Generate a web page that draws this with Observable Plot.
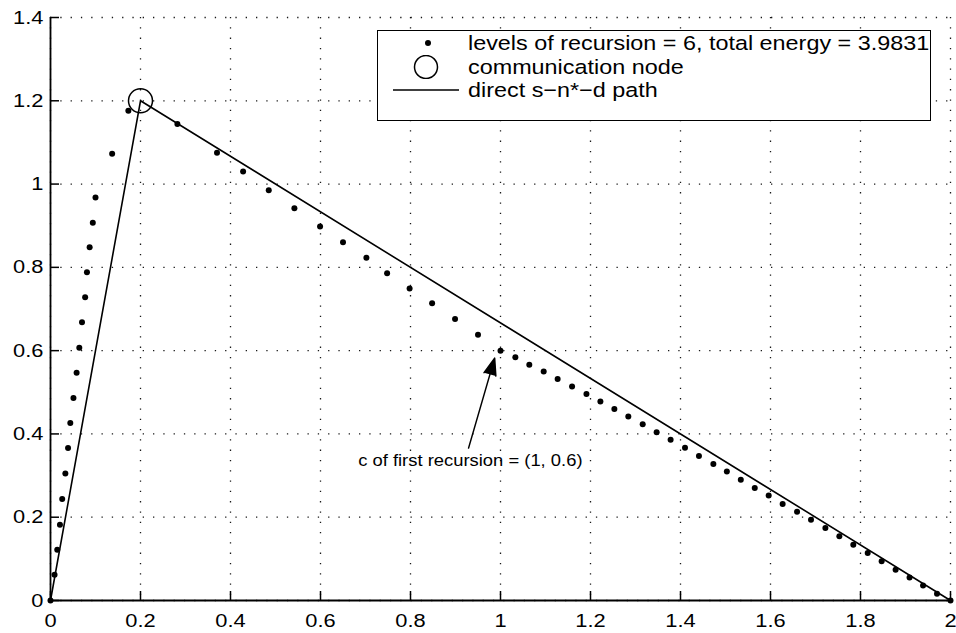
<!DOCTYPE html>
<html>
<head>
<meta charset="utf-8">
<script src="https://cdn.jsdelivr.net/npm/d3@7"></script>
<script src="https://cdn.jsdelivr.net/npm/@observablehq/plot@0.6"></script>
<style>
  html, body { margin: 0; padding: 0; background: #fff; }
  #chart { position: relative; width: 956px; height: 633px; font-family: "Liberation Sans", Arial, Helvetica, sans-serif; color: #000; }
  #chart svg { display: block; }
  .legend { position: absolute; left: 377px; top: 30px; width: 554px; height: 91px; box-sizing: border-box;
            border: 1.6px solid #000; background: #fff; }
  .legend .row { position: absolute; left: 0; height: 24px; display: flex; align-items: center; }
  .legend .row svg { width: 90px; height: 24px; flex: none; }
  .legend .row span { font-size: 20.5px; white-space: nowrap; display: inline-block;
                      transform: scaleX(1.14); transform-origin: left center; }
</style>
</head>
<body>
<div id="chart"></div>
<script>
// Axis ticks
const xTicks = [0, 0.2, 0.4, 0.6, 0.8, 1, 1.2, 1.4, 1.6, 1.8, 2];
const yTicks = [0, 0.2, 0.4, 0.6, 0.8, 1, 1.2, 1.4];

// Relay positions after 6 levels of recursion (source at (0,0), destination at (2,0))
const recursionX = [0, 0.009, 0.015, 0.021, 0.026, 0.033, 0.039, 0.044, 0.051, 0.058, 0.064, 0.070, 0.077,
  0.081, 0.087, 0.094, 0.100, 0.137, 0.173, 0.282, 0.370, 0.428, 0.485, 0.542, 0.599, 0.650, 0.702, 0.748,
  0.798, 0.848, 0.899, 0.950, 1.0, 1.033, 1.064, 1.096, 1.127, 1.159, 1.191, 1.222, 1.253, 1.284, 1.316,
  1.347, 1.378, 1.410, 1.441, 1.473, 1.503, 1.534, 1.565, 1.596, 1.627, 1.659, 1.690, 1.722, 1.753, 1.784,
  1.816, 1.847, 1.878, 1.909, 1.939, 1.970, 2.0];
const recursionY = [0, 0.062, 0.122, 0.182, 0.244, 0.305, 0.366, 0.426, 0.486, 0.547, 0.607, 0.668, 0.728,
  0.788, 0.848, 0.907, 0.968, 1.073, 1.176, 1.144, 1.075, 1.030, 0.985, 0.942, 0.898, 0.860, 0.823, 0.786,
  0.749, 0.714, 0.676, 0.638, 0.6, 0.584, 0.566, 0.550, 0.532, 0.514, 0.496, 0.478, 0.460, 0.442, 0.423,
  0.404, 0.386, 0.367, 0.347, 0.328, 0.310, 0.290, 0.270, 0.252, 0.232, 0.213, 0.194, 0.174, 0.154, 0.134,
  0.114, 0.094, 0.074, 0.055, 0.036, 0.016, 0];

// Communication node n* and the direct s - n* - d path
const nodeX = [0.2];
const nodeY = [1.2];
const pathX = [0, 0.2, 2];
const pathY = [0, 1.2, 0];

// Legend entries
const legendLabels = ["levels of recursion = 6, total energy = 3.9831", "communication node", "direct s\u2212n*\u2212d path"];

// Annotation of the first recursion's centre point
const noteText = "c of first recursion = (1, 0.6)";
const noteX = [0.933];
const noteY = [0.336];
const arrowX = [0.929, 0.987];
const arrowY = [0.366, 0.582];

const recursion = recursionX.map((x, i) => ({x, y: recursionY[i]}));
const path = pathX.map((x, i) => ({x, y: pathY[i]}));
const node = nodeX.map((x, i) => ({x, y: nodeY[i]}));
const note = noteX.map((x, i) => ({x, y: noteY[i], text: noteText}));
const arrow = [{x1: arrowX[0], y1: arrowY[0], x2: arrowX[1], y2: arrowY[1]}];

const W = 956, H = 633;
const margin = {top: 17, right: 6, bottom: 33, left: 50};
const innerW = W - margin.left - margin.right;
const innerH = H - margin.top - margin.bottom;
const tickLen = 9;

const gridStyle = {stroke: "#000", strokeOpacity: 0.9, strokeWidth: 1.3, strokeDasharray: "1.3,9"};
const fmt = d => String(d);

const svg = Plot.plot({
  width: W,
  height: H,
  marginTop: margin.top,
  marginRight: margin.right,
  marginBottom: margin.bottom,
  marginLeft: margin.left,
  style: {fontFamily: "'Liberation Sans', Arial, Helvetica, sans-serif", fontSize: "19px", color: "#000", background: "#fff"},
  x: {domain: [0, 2]},
  y: {domain: [0, 1.4]},
  marks: [
    Plot.gridX(xTicks, gridStyle),
    Plot.gridY(yTicks, gridStyle),
    Plot.axisX(xTicks, {tickSize: 0, tickPadding: 13, fontSize: 19, tickFormat: fmt}),
    Plot.axisY(yTicks, {tickSize: 0, tickPadding: 7, fontSize: 19, tickFormat: fmt}),
    // inward-pointing ticks on the bottom and left axes
    Plot.tickX(xTicks, {x: d => d, stroke: "#000", strokeWidth: 1.5, insetTop: innerH - tickLen}),
    Plot.tickY(yTicks, {y: d => d, stroke: "#000", strokeWidth: 1.5, insetRight: innerW - tickLen}),
    Plot.ruleX([0], {stroke: "#000", strokeWidth: 1.8}),
    Plot.ruleY([0], {stroke: "#000", strokeWidth: 1.8}),
    Plot.line(path, {x: "x", y: "y", stroke: "#000", strokeWidth: 1.6}),
    Plot.dot(recursion, {x: "x", y: "y", r: 3, fill: "#000", stroke: null}),
    Plot.dot(node, {x: "x", y: "y", r: 12, fill: "none", stroke: "#000", strokeWidth: 1.5}),
    Plot.arrow(arrow, {x1: "x1", y1: "y1", x2: "x2", y2: "y2", stroke: "#000", fill: "#000",
                       strokeWidth: 1.5, headLength: 18, headAngle: 40}),
    Plot.text(note, {x: "x", y: "y", text: "text", fontSize: 16, fill: "#000", textAnchor: "middle"})
  ]
});

// Helvetica-style labels are set slightly wide
d3.select(svg).selectAll("text").each(function () {
  const t = this.getAttribute("transform");
  if (t) {
    this.setAttribute("transform", t + " scale(1.15,1)");
  } else {
    const x = +(this.getAttribute("x") || 0), y = +(this.getAttribute("y") || 0);
    this.removeAttribute("x"); this.removeAttribute("y");
    this.setAttribute("transform", `translate(${x},${y}) scale(1.15,1)`);
  }
});

const chart = document.getElementById("chart");
chart.appendChild(svg);

// Legend box inside the upper-right corner of the axes
const legend = d3.select(chart).append("div").attr("class", "legend");
const rowTops = [0, 24, 47];
legendLabels.forEach((label, i) => {
  const row = legend.append("div").attr("class", "row").style("top", `${rowTops[i]}px`);
  const s = row.append("svg").attr("viewBox", "0 0 90 24");
  if (i === 0) s.append("circle").attr("cx", 50).attr("cy", 12).attr("r", 3).attr("fill", "#000");
  if (i === 1) s.append("circle").attr("cx", 48).attr("cy", 12).attr("r", 11.5).attr("fill", "none")
                 .attr("stroke", "#000").attr("stroke-width", 1.5);
  if (i === 2) s.append("line").attr("x1", 15).attr("x2", 81).attr("y1", 12).attr("y2", 12)
                 .attr("stroke", "#000").attr("stroke-width", 1.6);
  row.append("span").text(label);
});
</script>
</body>
</html>
